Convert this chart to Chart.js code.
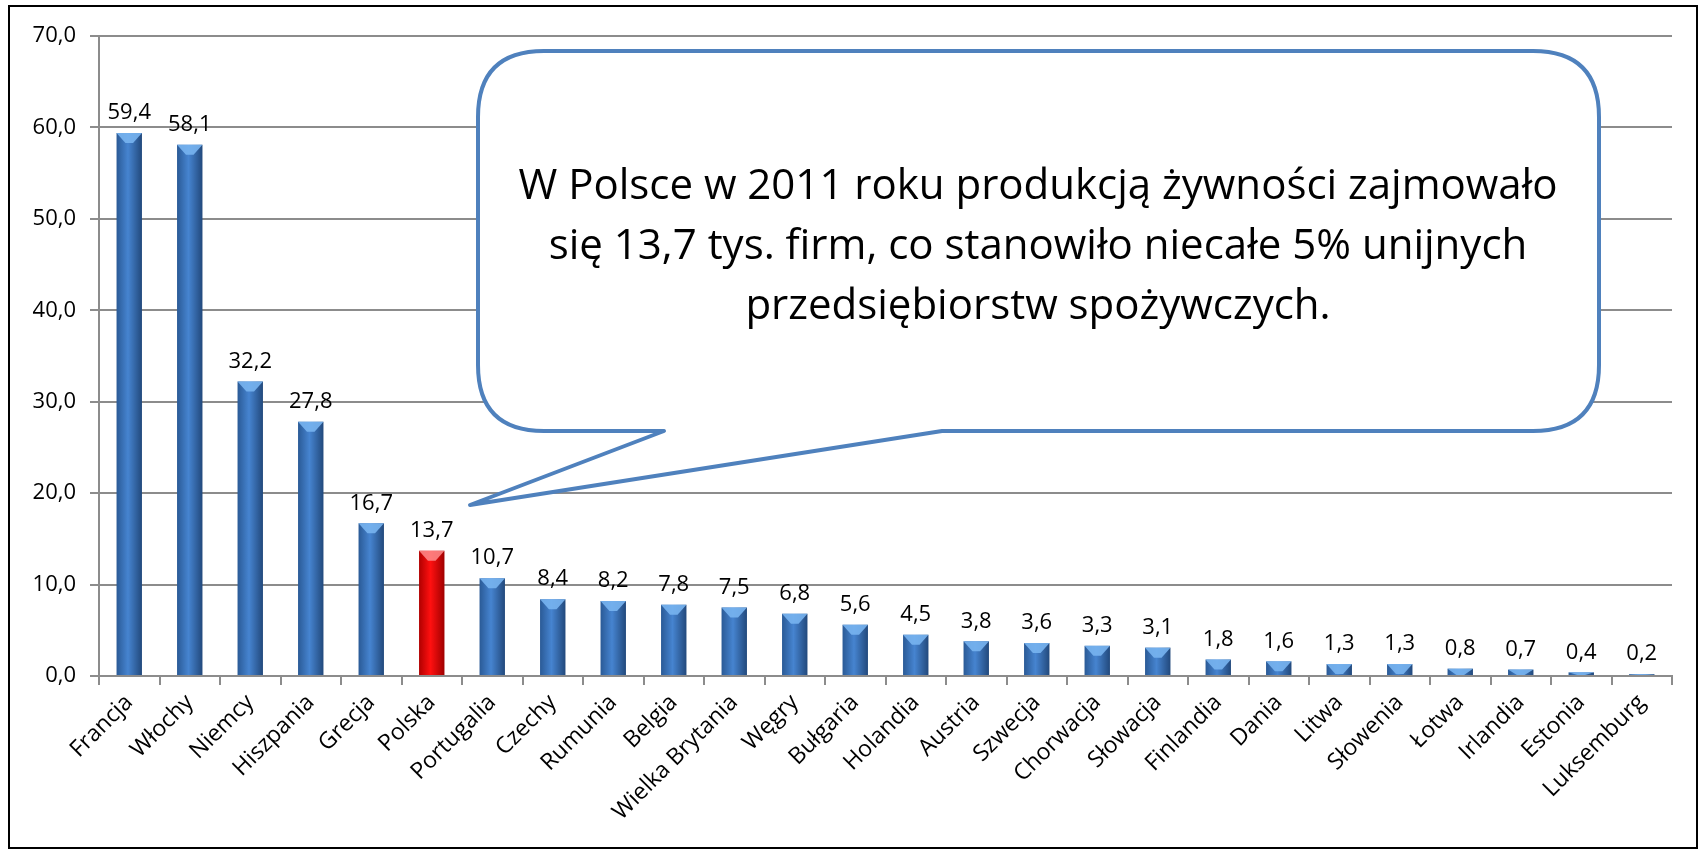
<!DOCTYPE html>
<html>
<head>
<meta charset="utf-8">
<script src="https://cdn.jsdelivr.net/npm/chart.js@4.4.1/dist/chart.umd.min.js"></script>
<style>
  html, body { margin: 0; padding: 0; background: #fff; }
  #frame {
    position: absolute; left: 8px; top: 5px;
    width: 1690px; height: 844px;
    border: 2px solid #000; box-sizing: border-box;
  }
  #chart { display: block; }
</style>
</head>
<body>
<div id="frame"><canvas id="chart" width="1686" height="840"></canvas></div>
<script>
// number of food companies (thousand) by country, 2011
const countries = ['Francja', 'Włochy', 'Niemcy', 'Hiszpania', 'Grecja', 'Polska', 'Portugalia',
  'Czechy', 'Rumunia', 'Belgia', 'Wielka Brytania', 'Węgry', 'Bułgaria', 'Holandia', 'Austria',
  'Szwecja', 'Chorwacja', 'Słowacja', 'Finlandia', 'Dania', 'Litwa', 'Słowenia', 'Łotwa',
  'Irlandia', 'Estonia', 'Luksemburg'];
const companies = [59.4, 58.1, 32.2, 27.8, 16.7, 13.7, 10.7, 8.4, 8.2, 7.8, 7.5, 6.8, 5.6, 4.5,
  3.8, 3.6, 3.3, 3.1, 1.8, 1.6, 1.3, 1.3, 0.8, 0.7, 0.4, 0.2];
const highlight = 'Polska';
const yTicks = [0, 10, 20, 30, 40, 50, 60, 70];
const calloutLines = [
  'W Polsce w 2011 roku produkcją żywności zajmowało',
  'się 13,7 tys. firm, co stanowiło niecałe 5% unijnych',
  'przedsiębiorstw spożywczych.'
];

const FONT = '"Open Sans", "Noto Sans", sans-serif';
const fmt = v => v.toFixed(1).replace('.', ',');

function barFill(ctx) {
  const chart = ctx.chart;
  const xs = chart.scales.x;
  const red = countries[ctx.dataIndex] === highlight;
  if (!xs || !xs.width) return red ? '#e00000' : '#3a72b8';
  const cx = xs.getPixelForValue(ctx.dataIndex);
  const hw = xs.width / countries.length * 0.42 / 2;
  const g = chart.ctx.createLinearGradient(cx - hw, 0, cx + hw, 0);
  if (red) {
    g.addColorStop(0, '#b00000');
    g.addColorStop(0.45, '#ff1010');
    g.addColorStop(1, '#a00000');
  } else {
    g.addColorStop(0, '#2a5a96');
    g.addColorStop(0.45, '#4684d0');
    g.addColorStop(1, '#22497c');
  }
  return g;
}

// light bevel triangle on top of each bar + value labels
const barDecor = {
  id: 'barDecor',
  afterDatasetsDraw(chart) {
    const ctx = chart.ctx;
    const meta = chart.getDatasetMeta(0);
    ctx.save();
    meta.data.forEach((bar, i) => {
      const p = bar.getProps(['x', 'y', 'base', 'width'], true);
      const hw = p.width / 2;
      const h = Math.min(10, p.base - p.y);
      const red = countries[i] === highlight;
      ctx.fillStyle = red ? 'rgba(255,140,140,0.85)' : 'rgba(120,180,240,0.9)';
      ctx.beginPath();
      ctx.moveTo(p.x - hw, p.y);
      ctx.lineTo(p.x + hw, p.y);
      ctx.lineTo(p.x + hw * 0.3, p.y + h);
      ctx.lineTo(p.x - hw * 0.3, p.y + h);
      ctx.closePath();
      ctx.fill();
      ctx.fillStyle = '#000';
      ctx.font = '22px ' + FONT;
      ctx.textAlign = 'center';
      ctx.textBaseline = 'bottom';
      ctx.fillText(fmt(companies[i]), p.x, p.y - 9);
    });
    ctx.restore();
  }
};

// speech bubble annotation
const callout = {
  id: 'callout',
  afterDraw(chart) {
    const ctx = chart.ctx;
    const l = 468, t = 44, r = 1589, b = 424, rad = 66;
    ctx.save();
    ctx.beginPath();
    ctx.moveTo(l + rad, t);
    ctx.lineTo(r - rad, t);
    ctx.quadraticCurveTo(r, t, r, t + rad);
    ctx.lineTo(r, b - rad);
    ctx.quadraticCurveTo(r, b, r - rad, b);
    ctx.lineTo(932, b);
    ctx.lineTo(460, 498);
    ctx.lineTo(654, b);
    ctx.lineTo(l + rad, b);
    ctx.quadraticCurveTo(l, b, l, b - rad);
    ctx.lineTo(l, t + rad);
    ctx.quadraticCurveTo(l, t, l + rad, t);
    ctx.closePath();
    ctx.fillStyle = '#fff';
    ctx.fill();
    ctx.lineWidth = 4;
    ctx.strokeStyle = '#4f81bd';
    ctx.lineJoin = 'round';
    ctx.stroke();
    ctx.fillStyle = '#000';
    ctx.font = '42px ' + FONT;
    ctx.textAlign = 'center';
    ctx.textBaseline = 'middle';
    calloutLines.forEach((line, i) => ctx.fillText(line, 1028, 180 + i * 60));
    ctx.restore();
  }
};

new Chart(document.getElementById('chart'), {
  type: 'bar',
  data: {
    labels: countries,
    datasets: [{
      data: companies,
      backgroundColor: barFill,
      barPercentage: 0.42,
      categoryPercentage: 1
    }]
  },
  options: {
    responsive: false,
    animation: false,
    layout: { padding: { left: 0, right: 24, top: 29, bottom: 0 } },
    plugins: { legend: { display: false }, tooltip: { enabled: false } },
    scales: {
      x: {
        grid: { drawOnChartArea: false, tickLength: 9, color: '#8c8c8c', lineWidth: 2, offset: true },
        border: { color: '#8c8c8c', width: 2 },
        ticks: { color: '#000', font: { family: FONT, size: 23 }, minRotation: 45, maxRotation: 45, autoSkip: false, padding: 4 },
        afterFit(s) { s.height = 171; }
      },
      y: {
        min: 0, max: 70,
        afterBuildTicks(s) { s.ticks = yTicks.map(v => ({ value: v })); },
        grid: { color: '#8c8c8c', lineWidth: 2, tickLength: 9 },
        border: { color: '#8c8c8c', width: 2 },
        ticks: { color: '#000', font: { family: FONT, size: 22 }, padding: 14, callback: v => fmt(v) },
        afterFit(s) { s.width = 89; }
      }
    }
  },
  plugins: [barDecor, callout]
});
</script>
</body>
</html>
